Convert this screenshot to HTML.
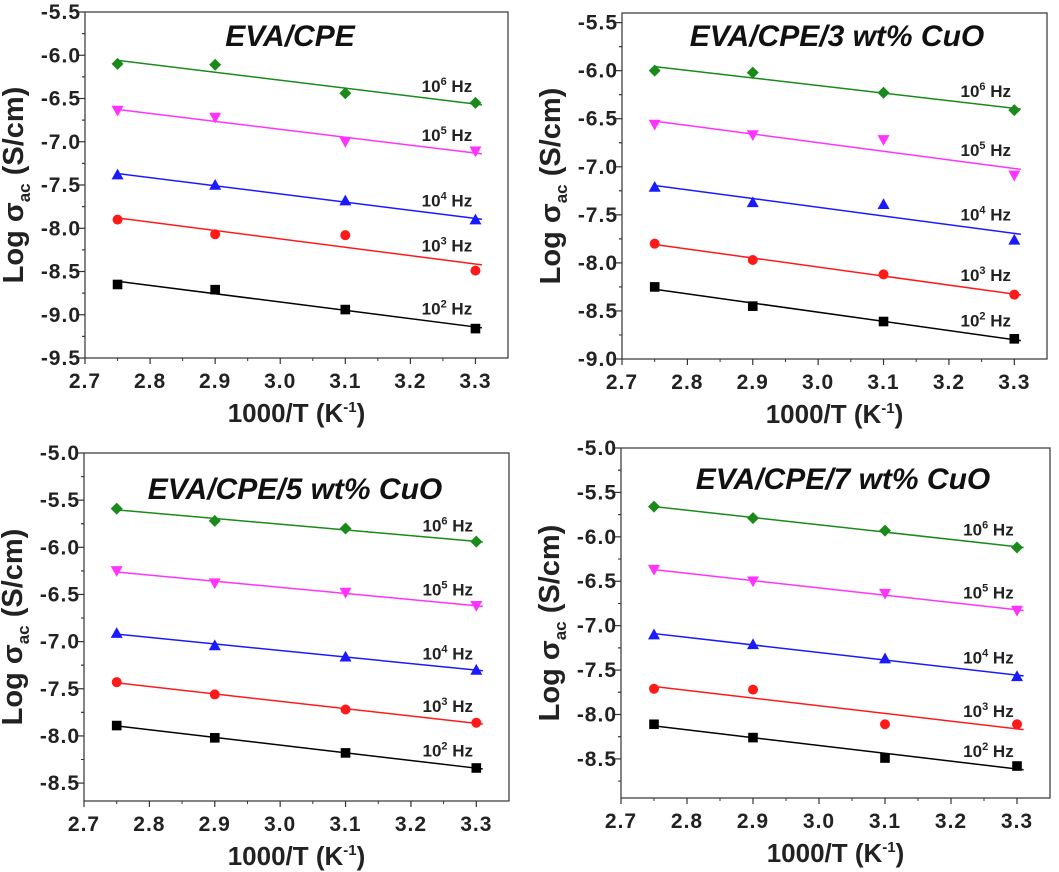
<!DOCTYPE html>
<html><head><meta charset="utf-8"><style>
body{margin:0;background:#fff;}
svg{display:block;font-family:"Liberation Sans",Arial,sans-serif;}
</style></head><body>
<svg id="chart" width="1059" height="872" viewBox="0 0 1059 872"></svg>
<script>
const xValues=[2.75,2.9,3.1,3.3];
const freqExps=[6,5,4,3,2];
const seriesColors=['#1a8a1a','#ff33ff','#1a1aff','#ff1a1a','#000000'];
const markerShapes=['diamond','tri-down','tri-up','circle','square'];
const xTicks=[2.7,2.8,2.9,3.0,3.1,3.2,3.3];
const panelTitles=['EVA/CPE','EVA/CPE/3 wt% CuO','EVA/CPE/5 wt% CuO','EVA/CPE/7 wt% CuO'];
const p1Values=[[-6.10,-6.11,-6.44,-6.55],[-6.64,-6.72,-7.00,-7.11],[-7.38,-7.50,-7.68,-7.90],[-7.90,-8.07,-8.08,-8.49],[-8.65,-8.71,-8.94,-9.16]];
const p2Values=[[-6.00,-6.02,-6.23,-6.41],[-6.56,-6.67,-6.72,-7.09],[-7.21,-7.37,-7.39,-7.76],[-7.80,-7.97,-8.12,-8.33],[-8.25,-8.45,-8.61,-8.79]];
const p3Values=[[-5.59,-5.72,-5.80,-5.94],[-6.25,-6.38,-6.48,-6.62],[-6.91,-7.04,-7.16,-7.30],[-7.43,-7.56,-7.72,-7.86],[-7.89,-8.02,-8.18,-8.34]];
const p4Values=[[-5.66,-5.79,-5.93,-6.12],[-6.37,-6.50,-6.64,-6.83],[-7.10,-7.21,-7.37,-7.57],[-7.71,-7.72,-8.11,-8.11],[-8.11,-8.26,-8.49,-8.58]];
const p1YTicks=[-5.5,-6.0,-6.5,-7.0,-7.5,-8.0,-8.5,-9.0,-9.5];
const p2YTicks=[-5.5,-6.0,-6.5,-7.0,-7.5,-8.0,-8.5,-9.0];
const p3YTicks=[-5.0,-5.5,-6.0,-6.5,-7.0,-7.5,-8.0,-8.5];
const p4YTicks=[-5.0,-5.5,-6.0,-6.5,-7.0,-7.5,-8.0,-8.5];
const allValues=[p1Values,p2Values,p3Values,p4Values];
const allYTicks=[p1YTicks,p2YTicks,p3YTicks,p4YTicks];
const yDomains=[[-5.5,-9.5],[-5.4,-9.0],[-5.0,-8.69],[-5.0,-8.94]];
const xDomain=[2.7,3.35];

const layouts=[
 {l:85,r:508,t:12,b:358,tx:290,ty:46},
 {l:622,r:1047,t:13,b:359,tx:837,ty:46},
 {l:84,r:509,t:453,b:801,tx:295,ty:499},
 {l:621,r:1050,t:448,b:798,tx:843,ty:489}
];
const NS='http://www.w3.org/2000/svg';
const svg=document.getElementById('chart');
function mk(tag,attrs,parent){const e=document.createElementNS(NS,tag);for(const k in attrs)e.setAttribute(k,attrs[k]);(parent||svg).appendChild(e);return e;}
function fit(xs,ys){const n=xs.length;let mx=0,my=0;for(let i=0;i<n;i++){mx+=xs[i];my+=ys[i];}mx/=n;my/=n;let sxy=0,sxx=0;for(let i=0;i<n;i++){sxy+=(xs[i]-mx)*(ys[i]-my);sxx+=(xs[i]-mx)**2;}const m=sxy/sxx;return x=>my+m*(x-mx);}

layouts.forEach((L,pi)=>{
  const g=mk('g',{});
  
  
  const px=v=>L.l+(v-xDomain[0])/(xDomain[1]-xDomain[0])*(L.r-L.l);
  const [y0,y1]=yDomains[pi];
  const py=v=>L.t+(v-y0)/(y1-y0)*(L.b-L.t);
  const frame=mk('rect',{x:L.l,y:L.t,width:L.r-L.l,height:L.b-L.t,fill:'none',stroke:'#333',"stroke-width":1.2},g);
  
  
  xTicks.forEach(t=>{
    const x=px(t);
    mk('line',{x1:x,x2:x,y1:L.b,y2:L.b+6,stroke:'#333',"stroke-width":1.2},g);
    if(t<3.3) mk('line',{x1:px(t+0.05),x2:px(t+0.05),y1:L.b,y2:L.b+3,stroke:'#333',"stroke-width":1},g);
    const tl=mk('text',{x:x,y:L.b+30,"text-anchor":"middle","font-size":21,"font-weight":"bold","letter-spacing":1,fill:'#222'},g);
    tl.textContent=t.toFixed(1);
    
    
  });
  allYTicks[pi].forEach(t=>{
    const y=py(t);
    mk('line',{x1:L.l,x2:L.l-6,y1:y,y2:y,stroke:'#333',"stroke-width":1.2},g);
    const ym=py(t-0.25); if(ym<=L.b) mk('line',{x1:L.l,x2:L.l-3,y1:ym,y2:ym,stroke:'#333',"stroke-width":1},g);
    const ym2=py(t+0.25); if(ym2>=L.t) mk('line',{x1:L.l,x2:L.l-3,y1:ym2,y2:ym2,stroke:'#333',"stroke-width":1},g);
    const tl=mk('text',{x:L.l-4,y:y+7,"text-anchor":"end","font-size":21,"font-weight":"bold","letter-spacing":1,fill:'#222'},g);
    tl.textContent=t.toFixed(1);
    
    
  });
  const xt=mk('text',{x:(L.l+L.r)/2,y:L.b+64,"text-anchor":"middle","font-size":26,"font-weight":"bold",fill:'#222'},g);
  xt.innerHTML='1000/T (K<tspan dy="-10" font-size="15">-1</tspan><tspan dy="10">)</tspan>';
  
  
  const cy=(L.t+L.b)/2, cx=L.l-62;
  const yt=mk('text',{x:cx,y:cy,"text-anchor":"middle","font-size":29,"font-weight":"bold",fill:'#222',transform:`rotate(-90 ${cx} ${cy})`},g);
  yt.innerHTML='Log σ<tspan dy="7" font-size="17">ac</tspan><tspan dy="-7"> (S/cm)</tspan>';
  
  
  const tt=mk('text',{x:L.tx,y:L.ty,"text-anchor":"middle","font-size":30,"font-weight":"bold","font-style":"italic",fill:'#111'},g);
  tt.textContent=panelTitles[pi];
  
  
  allValues[pi].forEach((ys,si)=>{
    const c=seriesColors[si];
    const f=fit(xValues,ys);
    const ln=mk('line',{x1:px(2.75),y1:py(f(2.75)),x2:px(3.31),y2:py(f(3.31)),stroke:c,"stroke-width":1.5},g);
    
    
    ys.forEach((v,i)=>{
      const x=px(xValues[i]),y=py(v),s=6;let m;
      const sh=markerShapes[si];
      if(sh==='diamond') m=mk('polygon',{points:`${x},${y-s} ${x+s},${y} ${x},${y+s} ${x-s},${y}`,fill:c},g);
      else if(sh==='tri-down') m=mk('polygon',{points:`${x-s},${y-s*0.8} ${x+s},${y-s*0.8} ${x},${y+s}`,fill:c},g);
      else if(sh==='tri-up') m=mk('polygon',{points:`${x-s},${y+s*0.8} ${x+s},${y+s*0.8} ${x},${y-s}`,fill:c},g);
      else if(sh==='circle') m=mk('circle',{cx:x,cy:y,r:5,fill:c},g);
      else m=mk('rect',{x:x-4.8,y:y-4.8,width:9.6,height:9.6,fill:c},g);
      
      
    });
    const lb=mk('text',{x:px(3.295),y:py(f(3.2))-4,"text-anchor":"end","font-size":17,"font-weight":"bold",fill:'#222'},g);
    lb.innerHTML='10<tspan dy="-7" font-size="11">'+freqExps[si]+'</tspan><tspan dy="7"> Hz</tspan>';
    
    
  });
});
</script>
</body></html>
